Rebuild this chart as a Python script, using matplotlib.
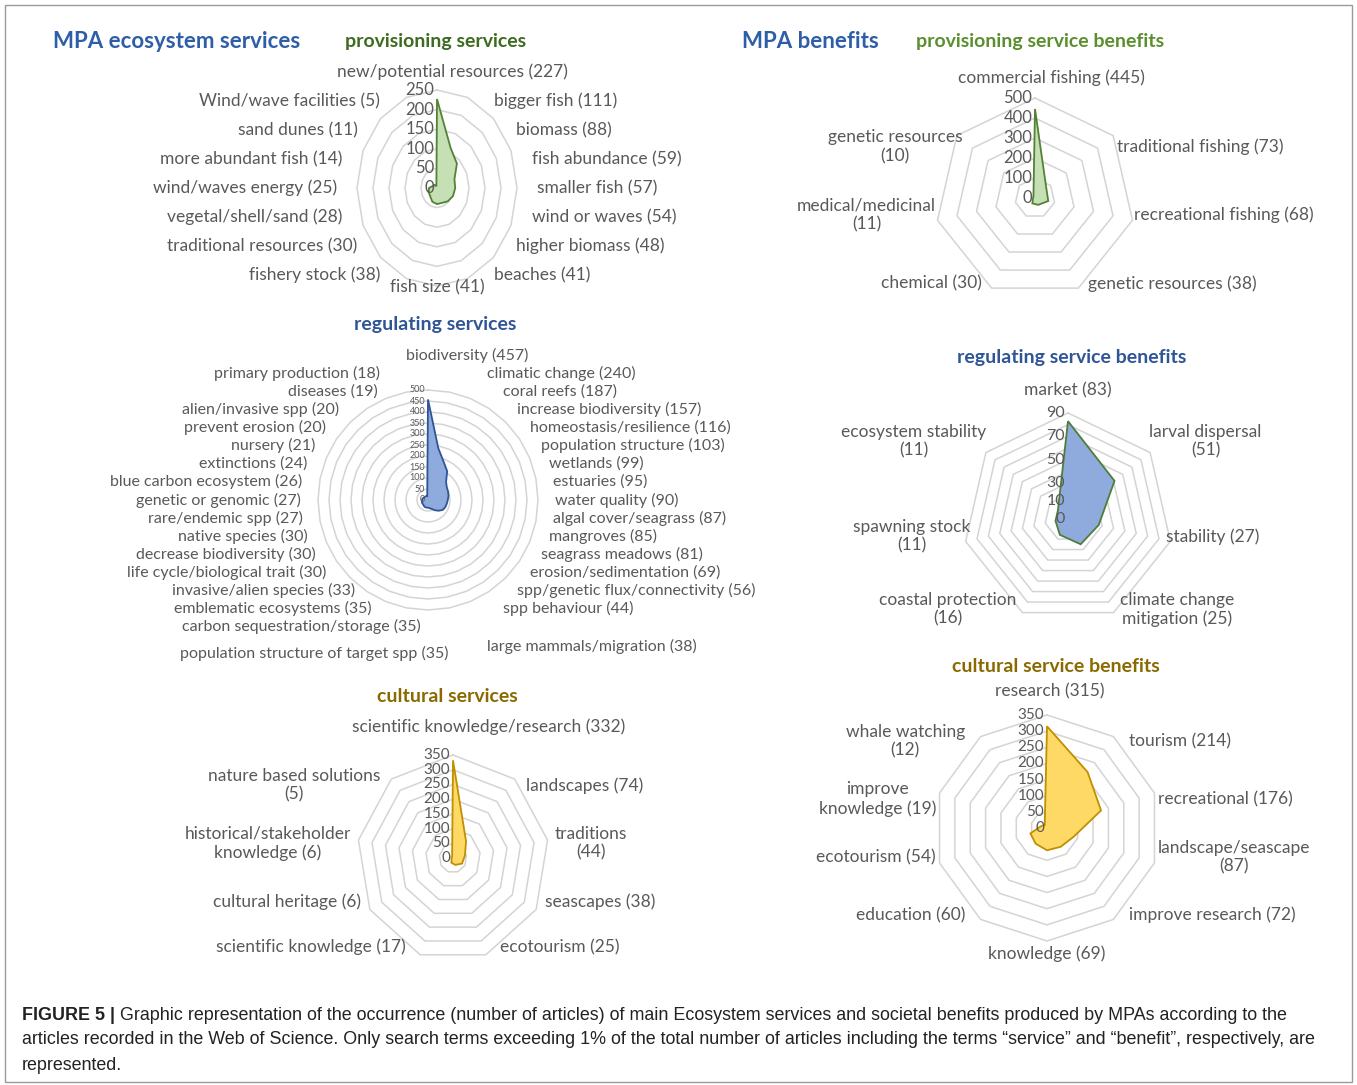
import numpy as np
import matplotlib
matplotlib.use("Agg")
import matplotlib.pyplot as plt
from matplotlib.transforms import ScaledTranslation
from matplotlib.patches import Rectangle

W, H = 1357, 1085

# ---- data (counts of articles) ----
prov_labels = ["new/potential resources", "bigger fish", "biomass", "fish abundance",
               "smaller fish", "wind or waves", "higher biomass", "beaches", "fish size",
               "fishery stock", "traditional resources", "vegetal/shell/sand",
               "wind/waves energy", "more abundant fish", "sand dunes", "Wind/wave facilities"]
prov_values = [227, 111, 88, 59, 57, 54, 48, 41, 41, 38, 30, 28, 25, 14, 11, 5]
prov_ticks = [0, 50, 100, 150, 200, 250]

reg_labels = ["biodiversity", "climatic change", "coral reefs", "increase biodiversity",
              "homeostasis/resilience", "population structure", "wetlands", "estuaries",
              "water quality", "algal cover/seagrass", "mangroves", "seagrass meadows",
              "erosion/sedimentation", "spp/genetic flux/connectivity", "spp behaviour",
              "large mammals/migration", "population structure of target spp",
              "carbon sequestration/storage", "emblematic ecosystems", "invasive/alien species",
              "life cycle/biological trait", "decrease biodiversity", "native species",
              "rare/endemic spp", "genetic or genomic", "blue carbon ecosystem", "extinctions",
              "nursery", "prevent erosion", "alien/invasive spp", "diseases", "primary production"]
reg_values = [457, 240, 187, 157, 116, 103, 99, 95, 90, 87, 85, 81, 69, 56, 44, 38,
              35, 35, 35, 33, 30, 30, 30, 27, 27, 26, 24, 21, 20, 20, 19, 18]
reg_ticks = [0, 50, 100, 150, 200, 250, 300, 350, 400, 450, 500]

cult_labels = ["scientific knowledge/research", "landscapes", "traditions\n", "seascapes",
               "ecotourism", "scientific knowledge", "cultural heritage",
               "historical/stakeholder\nknowledge", "nature based solutions\n"]
cult_values = [332, 74, 44, 38, 25, 17, 6, 6, 5]
cult_ticks = [0, 50, 100, 150, 200, 250, 300, 350]

provb_labels = ["commercial fishing", "traditional fishing", "recreational fishing",
                "genetic resources", "chemical", "medical/medicinal\n", "genetic resources\n"]
provb_values = [445, 73, 68, 38, 30, 11, 10]
provb_ticks = [0, 100, 200, 300, 400, 500]

regb_labels = ["market", "larval dispersal\n", "stability", "climate change\nmitigation",
               "coastal protection\n", "spawning stock\n", "ecosystem stability\n"]
regb_values = [83, 51, 27, 25, 16, 11, 11]
regb_ticks = [0, 10, 30, 50, 70, 90]
regb_rings = [10, 20, 30, 40, 50, 60, 70, 80, 90]

cultb_labels = ["research", "tourism", "recreational", "landscape/seascape\n",
                "improve research", "knowledge", "education", "ecotourism",
                "improve\nknowledge", "whale watching\n"]
cultb_values = [315, 214, 176, 87, 72, 69, 60, 54, 19, 12]
cultb_ticks = [0, 50, 100, 150, 200, 250, 300, 350]

GRID = "#d4d4d4"
TXT = "#595959"
FONT = ["Lato", "DejaVu Sans"]

plt.rcParams["font.family"] = FONT
fig = plt.figure(figsize=(W / 100, H / 100), dpi=100)


def radar(cx, cy, rx, ry, labels, values, rings, ticks, fill, edge,
          fs, tfs, a, g, b, bb, nudge=None, tick_up=None):
    nudge = nudge or {}
    tick_up = tick_up or {}
    ax = fig.add_axes([(cx - rx) / W, 1 - (cy + ry) / H, 2 * rx / W, 2 * ry / H],
                      projection="polar")
    ax.set_aspect("auto")
    ax.set_theta_zero_location("N")
    ax.set_theta_direction(-1)
    ax.set_ylim(0, rings[-1])
    ax.axis("off")
    n = len(values)
    th = np.linspace(0, 2 * np.pi, n, endpoint=False)
    thc = np.append(th, 0)
    for r in rings:
        ax.plot(thc, [r] * (n + 1), color=GRID, lw=1.1, zorder=1, clip_on=False)
    vc = np.append(values, values[0])
    ax.fill(thc, vc, facecolor=fill, edgecolor=edge, lw=1.3, zorder=3, clip_on=False)
    for t in ticks:
        off = ScaledTranslation(-2 / 72, tick_up.get(t, 0) / 100, fig.dpi_scale_trans)
        ax.text(0, t, str(t), transform=ax.transData + off, ha="right", va="center",
                fontsize=tfs, color=TXT, zorder=4)
    for k, (lab, v) in enumerate(zip(labels, values)):
        txt = lab + ("" if lab.endswith("\n") else " ") + "(%d)" % v
        s = np.sin(th[k])
        phi = min(th[k], 2 * np.pi - th[k])
        if abs(s) < 1e-6:
            dx, ha = 0, "center"
        else:
            dx = np.sign(s) * (a * abs(s) + g)
            ha = "left" if s > 0 else "right"
        dy = -b * (1 - 2 * phi / np.pi)
        dy = min(dy, bb)
        if k in nudge:
            ddx, ddy, hh = nudge[k]
            dx += ddx
            dy += ddy
            if hh:
                ha = hh
        ax.text(0.5 + dx / (2 * rx), 0.5 - dy / (2 * ry), txt, transform=ax.transAxes,
                ha=ha, va="center", multialignment="center", fontsize=fs, color=TXT)
    return ax


GREEN_F, GREEN_E = "#c5e0b4", "#548235"
BLUE_F, BLUE_E = "#8faadc", "#2f5597"
YEL_F, YEL_E = "#ffd966", "#bf9000"

radar(437, 188, 80, 98, prov_labels, prov_values, prov_ticks[1:], prov_ticks,
      GREEN_F, GREEN_E, 12.5, 12, 70, 30, 116, 99, {0: (15, 0, None)})
radar(428, 500, 110, 110, reg_labels, reg_values, reg_ticks[1:], reg_ticks,
      BLUE_F, BLUE_E, 11.5, 6.5, 85, 42, 145, 153,
      {0: (39, 0, None), 15: (0, 20, None), 16: (21, 8, "right"), 17: (51, 0, None),
       18: (18, 0, None), 19: (16, 0, None), 30: (24, 0, None), 31: (11, 0, None)})
radar(453, 858, 96, 103, cult_labels, cult_values, cult_ticks[1:], cult_ticks,
      YEL_F, YEL_E, 12.5, 11, 85, 18, 131, 89, {0: (36, 0, None)})
radar(1035, 198, 100, 100, provb_labels, provb_values, provb_ticks[1:], provb_ticks,
      GREEN_F, GREEN_E, 12.5, 12, 85, 16, 120, 92, {0: (16, 0, None), 6: (10, 0, None)})
radar(1068, 518, 105, 105, regb_labels, regb_values, regb_rings, regb_ticks,
      BLUE_F, "#4e7d3a", 12.5, 11.5, 85, 15, 128, 93,
      {1: (0, -22, None), 6: (0, -22, None)}, tick_up={10: 5, 0: -1})
radar(1047, 828, 113, 113, cultb_labels, cultb_values, cultb_ticks[1:], cultb_ticks,
      YEL_F, YEL_E, 12.5, 11, 80, 35, 145, 126, {0: (3, 8, None)})

# ---- headings ----
def head(x, y, s, color, size, ha="left"):
    fig.text(x / W, 1 - y / H, s, color=color, fontsize=size, fontweight="bold",
             ha=ha, va="center")

head(53, 42, "MPA ecosystem services", "#2f5ea8", 16)
head(345, 42, "provisioning services", "#3d6b1f", 14)
head(742, 42, "MPA benefits", "#2f5ea8", 16)
head(916, 42, "provisioning service benefits", "#5b8f2e", 14)
head(435, 325, "regulating services", "#2f5597", 14, "center")
head(1072, 357, "regulating service benefits", "#2f5597", 14, "center")
head(447, 697, "cultural services", "#8a6a00", 14, "center")
head(1056, 666, "cultural service benefits", "#8a6a00", 14, "center")

# ---- frame and caption ----
fig.patches.append(Rectangle((5 / W, 3 / H), 1347 / W, 1077 / H, transform=fig.transFigure,
                             fill=False, edgecolor="#9a9a9a", lw=1))

cap = ["Graphic representation of the occurrence (number of articles) of main Ecosystem services "
       "and societal benefits produced by MPAs according to the",
       "articles recorded in the Web of Science. Only search terms exceeding 1% of the total number "
       "of articles including the terms \u201cservice\u201d and \u201cbenefit\u201d, respectively, are",
       "represented."]
CAPF = ["Liberation Sans", "DejaVu Sans"]
CS = 12.9
t0 = fig.text(22 / W, 1 - 1015 / H, "FIGURE 5 |", fontsize=CS, fontweight="bold",
              family=CAPF, color="#222222", va="center")
r = fig.canvas.get_renderer()
x1 = t0.get_window_extent(r).x1
fig.text((x1 + 5) / W, 1 - 1015 / H, cap[0], fontsize=CS, family=CAPF, color="#222222",
         va="center")
fig.text(22 / W, 1 - 1040 / H, cap[1], fontsize=CS, family=CAPF, color="#222222", va="center")
fig.text(22 / W, 1 - 1065 / H, cap[2], fontsize=CS, family=CAPF, color="#222222", va="center")

fig.savefig("out.png", dpi=100, facecolor="white")
